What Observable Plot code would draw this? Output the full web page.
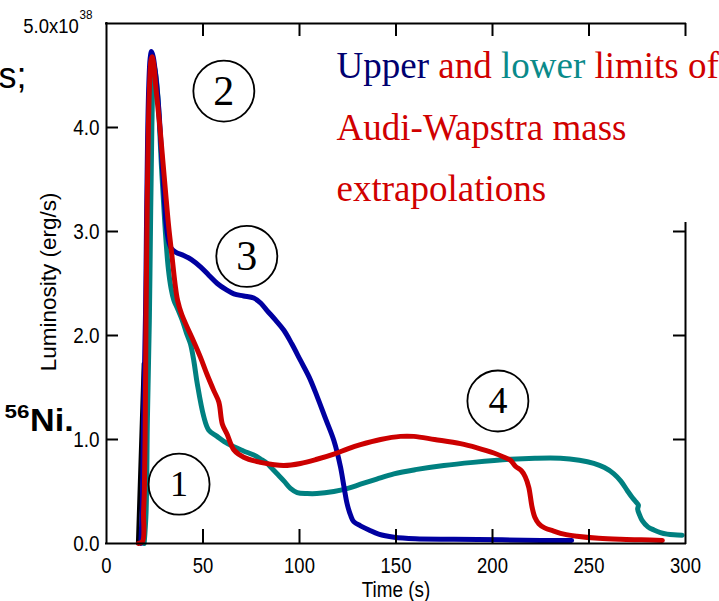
<!DOCTYPE html>
<html>
<head>
<meta charset="utf-8">
<script src="https://cdn.jsdelivr.net/npm/d3@7"></script>
<script src="https://cdn.jsdelivr.net/npm/@observablehq/plot@0.6"></script>
<style>
  html, body { margin: 0; padding: 0; background: #fff; }
  #chart svg { display: block; }
</style>
</head>
<body>
<div id="chart"></div>
<script>
// ---- data (time in s, luminosity in 1e38 erg/s) ----
const timeTicks = [0, 50, 100, 150, 200, 250, 300];
const lumTicks = [0, 1, 2, 3, 4];
const yTopLabel = "5.0x10";
const yTopExp = "38";
const xLabel = "Time (s)";
const yLabel = "Luminosity (erg/s)";

const onsetCurve = [[16, 0], [19, 1.73]];

const upperLimit = [[17.8,0],[18.6,0.4],[19.3,1.3],[20.2,2.2],[20.8,3.2],[21.3,3.9],[21.9,4.4],[22.6,4.66],[23.3,4.73],[24.2,4.68],[25.5,4.5],[27,4.2],[28.5,3.75],[30,3.3],[31,3.05],[32.3,2.9],[33.5,2.84],[36,2.8],[40,2.77],[44,2.73],[48.7,2.66],[53,2.58],[57.4,2.5],[62,2.44],[66,2.4],[71,2.38],[76.3,2.36],[80,2.31],[83.2,2.24],[87.5,2.15],[91.9,2.05],[96,1.92],[100.5,1.76],[105,1.6],[109.2,1.41],[113.5,1.2],[117.8,0.99],[121.2,0.74],[123,0.55],[124.7,0.38],[126.5,0.27],[128.1,0.21],[131.6,0.17],[136,0.13],[141,0.09],[149,0.06],[160,0.045],[180,0.04],[205,0.035],[225,0.03],[241,0.03]];

const lowerLimit = [[19.5,0],[20.5,0.3],[21.2,1.2],[22.2,2.15],[22.9,3.2],[23.5,4.0],[24.1,4.45],[24.8,4.58],[25.6,4.5],[26.6,4.3],[27.5,4.0],[28.4,3.65],[29.5,3.3],[30.5,3.0],[32,2.65],[33.5,2.45],[34.9,2.34],[37,2.25],[39.2,2.15],[41.5,2.02],[43.5,1.92],[45.3,1.75],[47,1.54],[50.4,1.22],[53,1.09],[57.3,1.03],[61,0.98],[66,0.93],[71,0.89],[76.3,0.85],[80,0.81],[83.2,0.77],[85.8,0.72],[88.4,0.67],[92,0.6],[95.3,0.53],[98.8,0.49],[104,0.48],[109,0.48],[117.8,0.5],[125,0.53],[131.6,0.57],[140,0.62],[148.9,0.67],[160,0.71],[174.8,0.75],[190,0.78],[209.3,0.81],[222,0.82],[235.2,0.82],[245,0.8],[252.5,0.77],[258,0.73],[262.9,0.67],[266.5,0.6],[269.8,0.51],[272.5,0.44],[274.3,0.4],[275.6,0.37],[275.2,0.33],[276.3,0.27],[277.6,0.22],[280.5,0.16],[283.6,0.13],[287,0.105],[290.5,0.09],[294,0.083],[298.3,0.08]];

const audiWapstra = [[16.5,0],[18.7,0.02],[19.2,0.3],[19.6,0.5],[20,1.0],[20.5,2.2],[21.1,3.3],[21.7,4.0],[22.4,4.45],[23.0,4.64],[23.6,4.68],[24.4,4.62],[25.5,4.4],[26.6,4.2],[27.7,4.0],[29,3.72],[30.5,3.4],[32.2,3.05],[34,2.75],[35.5,2.5],[36.8,2.34],[39,2.2],[41.8,2.08],[45,1.95],[48.7,1.79],[52,1.63],[55.6,1.47],[58.2,1.36],[60,1.15],[62.5,1.05],[66,0.9],[71.1,0.83],[79.8,0.78],[86,0.76],[91.9,0.75],[100.5,0.77],[109,0.81],[117.8,0.86],[125,0.91],[131.6,0.95],[142,1.0],[152.3,1.03],[159.2,1.03],[170,1.0],[183.4,0.96],[192,0.92],[200.7,0.87],[206,0.83],[209.3,0.8],[212,0.74],[215,0.7],[217,0.64],[218.8,0.54],[220.5,0.35],[222,0.25],[224,0.19],[227,0.15],[231.7,0.12],[237,0.09],[243.8,0.07],[255,0.05],[266.3,0.04],[277,0.035],[288,0.03]];

// ---- annotations ----
const circleLabels = [
  {label: "1", t: 37.6, L: 0.57, size: 36},
  {label: "2", t: 60.8, L: 4.35, size: 42},
  {label: "3", t: 72.7, L: 2.76, size: 42},
  {label: "4", t: 202.8, L: 1.37, size: 38}
];
const noteLines = ["Upper and lower limits of", "Audi-Wapstra mass", "extrapolations"];
const noteX = 119.2;
const noteY = [4.474, 3.878, 3.291];

const colors = {upper: "#0000a0", lower: "#008080", aw: "#cc0000", navyText: "#000070", tealText: "#0a8a8a", redText: "#d00000"};
const noteSegments = [["Upper", colors.navyText], [" and ", colors.redText], ["lower", colors.tealText], [" limits of", colors.redText]];

// ---- layout ----
const W = 719, H = 601, mL = 106, mR = 34, mT = 23, mB = 58;
const innerW = W - mL - mR;
const innerH = H - mT - mB;
const frameStyle = {stroke: "black", strokeWidth: 2};
const serif = "'Liberation Serif', 'Times New Roman', serif";
const lineOpts = (color) => ({x: d => d[0], y: d => d[1], stroke: color, strokeWidth: 5, curve: "catmull-rom", strokeLinejoin: "round", strokeLinecap: "round"});

const chart = Plot.plot({
  width: W, height: H,
  marginLeft: mL, marginRight: mR, marginTop: mT, marginBottom: mB,
  x: {domain: [0, 300], axis: null},
  y: {domain: [0, 5], axis: null},
  style: {background: "white", fontFamily: "'Liberation Sans', Arial, sans-serif", color: "black"},
  marks: [
    // curves
    Plot.line(onsetCurve, {x: d => d[0], y: d => d[1], stroke: "black", strokeWidth: 3}),
    Plot.line(lowerLimit, lineOpts(colors.lower)),
    Plot.line(upperLimit, lineOpts(colors.upper)),
    Plot.line(audiWapstra, lineOpts(colors.aw)),

    // frame
    Plot.ruleX([0], {x: d => d, ...frameStyle, strokeLinecap: "square"}),
    Plot.ruleY([0, 5], {y: d => d, ...frameStyle, strokeLinecap: "square"}),
    Plot.ruleX([300], {x: d => d, insetTop: 200, ...frameStyle, strokeLinecap: "square"}),

    // inward ticks
    Plot.tickX(timeTicks.slice(1, 6), {x: d => d, insetTop: innerH - 14, ...frameStyle}),
    Plot.tickX(timeTicks.slice(1), {x: d => d, insetBottom: innerH - 13, ...frameStyle}),
    Plot.tickY(lumTicks.slice(1), {y: d => d, insetRight: innerW - 12, ...frameStyle}),
    Plot.tickY(lumTicks.slice(1, 4), {y: d => d, insetLeft: innerW - 12, ...frameStyle}),

    // tick labels
    Plot.text(timeTicks, {x: d => d, y: 0, dy: 29.5, text: d => String(d), lineAnchor: "bottom", fontSize: 21.5, ariaDescription: "narrow:0.86"}),
    Plot.text(lumTicks, {x: 0, y: d => d, dx: -7, text: d => d.toFixed(1), textAnchor: "end", lineAnchor: "middle", fontSize: 22, ariaDescription: "narrow:0.86"}),
    Plot.text([yTopLabel], {x: 0, y: 5, dx: -27.7, dy: 9, text: d => d, textAnchor: "end", lineAnchor: "bottom", fontSize: 21, ariaDescription: "narrow:0.88"}),
    Plot.text([yTopExp], {x: 0, y: 5, dx: -27, dy: -5, text: d => d, textAnchor: "start", lineAnchor: "bottom", fontSize: 13, ariaDescription: "narrow:0.9"}),

    // axis titles
    Plot.text([xLabel], {x: 150, y: 0, dy: 53.5, text: d => d, lineAnchor: "bottom", fontSize: 22.5, ariaDescription: "narrow:0.84"}),
    Plot.text([yLabel], {x: 0, y: 2.515, dx: -58.2, text: d => d, rotate: -90, lineAnchor: "middle", fontSize: 22.5}),

    // circled phase numbers
    Plot.dot(circleLabels, {x: "t", y: "L", r: 30.5, stroke: "black", strokeWidth: 1.8, fill: "none"}),
    Plot.text(circleLabels, {x: "t", y: "L", text: "label", fontFamily: serif, fontSize: d => d.size, lineAnchor: "middle"}),

    // annotation
    Plot.text(noteLines, {x: noteX, y: (d, i) => noteY[i], text: d => d, textAnchor: "start", lineAnchor: "bottom", fontFamily: serif, fontSize: 37, fill: colors.redText}),

    // slide text fragments at the left edge
    Plot.text(["s;"], {x: 0, y: 5, dx: -108, dy: 64, text: d => d, textAnchor: "start", lineAnchor: "bottom", fontSize: 36}),
    Plot.text(["56"], {x: 0, y: 0, dx: -102, dy: -126, text: d => d, textAnchor: "start", lineAnchor: "bottom", fontSize: 19, fontWeight: "bold", ariaDescription: "narrow:1.18"}),
    Plot.text(["Ni."], {x: 0, y: 0, dx: -76.5, dy: -112.6, text: d => d, textAnchor: "start", lineAnchor: "bottom", fontSize: 30.5, fontWeight: "bold", ariaDescription: "narrow:1.12"})
  ]
});

// horizontal condensing / stretching of sans labels
chart.querySelectorAll("g[aria-description]").forEach(g => {
  const m = /^narrow:([\d.]+)$/.exec(g.getAttribute("aria-description"));
  if (!m) return;
  g.querySelectorAll("text").forEach(t => {
    t.setAttribute("transform", (t.getAttribute("transform") || "") + ` scale(${m[1]},1)`);
  });
});

// multi-coloured first annotation line
chart.querySelectorAll("text").forEach(t => {
  if (t.textContent === noteLines[0]) {
    t.textContent = "";
    t.setAttribute("style", "white-space: pre");
    noteSegments.forEach(([s, c]) => {
      const ts = document.createElementNS("http://www.w3.org/2000/svg", "tspan");
      ts.setAttribute("fill", c);
      ts.textContent = s;
      t.appendChild(ts);
    });
  }
});

document.getElementById("chart").appendChild(chart);
</script>
</body>
</html>
